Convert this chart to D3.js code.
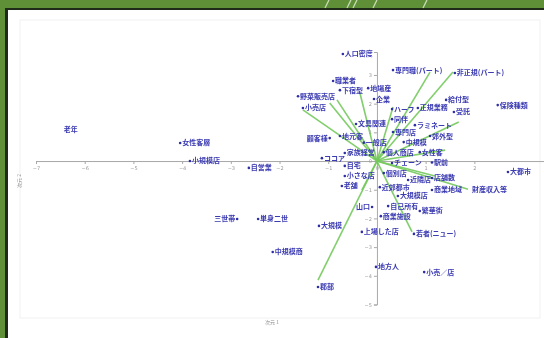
<!DOCTYPE html>
<html>
<head>
<meta charset="utf-8">
<script src="https://cdn.jsdelivr.net/npm/d3@7/dist/d3.min.js"></script>
<style>
  html, body { margin: 0; padding: 0; background: #5f8f36; }
  svg { display: block; }
</style>
</head>
<body>
<svg id="chart" width="544" height="338"></svg>
<script>
// Biplot: category points (blue) and variable vectors (green) on two dimensions
const xTicks = [-7, -6, -5, -4, -3, -2, -1, 0, 1, 2];
const yTicks = [-5, -4, -3, -2, -1, 0, 1, 2, 3];
const xTitle = "次元 1";
const yTitle = "次元 2";

// category points: label, dim1, dim2, label side (r = right, l = left, n = label only)
const pointLabels = [
  "人口密度", "専門職(パート)", "非正規(パート)", "職業者", "下宿型", "地場産", "野菜販売店", "企業",
  "ハーフ", "小売店", "正規業務", "給付型", "受託", "保険種類", "文具関連", "同伴", "ラミネート",
  "顧客様", "地元客", "一般店", "専門店", "中規模", "郊外型", "家族経営", "個人商店", "女性客",
  "ココア", "自宅", "個別店", "近隣店", "小さな店", "老舗", "近郊都市", "大規模店", "自己所有",
  "繁華街", "大都市", "財産収入等", "女性客層", "小規模店", "自営業", "老年", "三世帯", "単身二世",
  "大規模", "中規模商", "郡部", "山口", "商業施設", "上場した店", "若者(ニュー)", "地方人", "小売／店",
  "商業地域", "店舗数", "チェーン", "駅前"
];
const pointDim1 = [
  -0.70, 0.33, 1.60, -0.90, -0.76, -0.18, -1.62, -0.06,
  0.31, -1.52, 0.84, 1.42, 1.58, 2.48, -0.43, 0.31, 0.78,
  -0.97, -0.76, -0.27, 0.33, 0.55, 1.09, -0.66, 0.14, 0.88,
  -1.13, -0.66, 0.14, 0.64, -0.66, -0.72, 0.06, 0.43, 0.23,
  0.88, 2.69, 1.91, -4.04, -3.84, -2.63, -6.47, -2.87, -2.44,
  -1.19, -2.14, -1.21, -0.10, 0.08, -0.31, 0.76, -0.02, 0.97,
  1.13, 1.13, 0.31, 1.13
];
const pointDim2 = [
  3.73, 3.17, 3.07, 2.79, 2.47, 2.54, 2.26, 2.16,
  1.81, 1.85, 1.85, 2.13, 1.71, 1.95, 1.29, 1.46, 1.25,
  0.80, 0.87, 0.64, 1.01, 0.66, 0.87, 0.28, 0.31, 0.31,
  0.10, -0.17, -0.42, -0.66, -0.52, -0.87, -0.91, -1.22, -1.57,
  -1.74, -0.38, -0.98, 0.63, 0.00, -0.24, 1.11, -2.02, -2.02,
  -2.26, -3.17, -4.39, -1.60, -1.92, -2.47, -2.54, -3.69, -3.87,
  -1.01, -0.59, -0.07, -0.05
];
const pointSide = [
  "r", "r", "r", "r", "r", "r", "r", "r",
  "r", "r", "r", "r", "r", "r", "r", "r", "r",
  "l", "r", "r", "r", "r", "r", "r", "r", "r",
  "r", "r", "r", "r", "r", "r", "r", "r", "r",
  "r", "r", "n", "r", "r", "r", "n", "l", "r",
  "r", "r", "r", "l", "r", "r", "r", "r", "r",
  "r", "r", "r", "r"
];

// variable vectors drawn from the origin
const vectorDim1 = [1.09, 1.56, -1.52, -0.82, -0.35, 0.33, 1.68, 1.40, 1.87, 1.19, 0.72, -1.21, -0.31, -0.97];
const vectorDim2 = [3.10, 3.10, 1.78, 2.13, 2.37, 1.88, 1.36, 0.38, -0.98, -0.52, -2.47, -4.15, -1.01, 2.02];

const svg = d3.select("#chart");
const W = 544, H = 338;

// slide frame: green band, dark edge, white panel
svg.append("rect").attr("width", W).attr("height", H).attr("fill", "#5f8f36");
svg.append("rect").attr("x", 5).attr("y", 8).attr("width", W).attr("height", H)
  .attr("fill", "#1f2a18");
svg.append("rect").attr("x", 8).attr("y", 10).attr("width", W).attr("height", H)
  .attr("fill", "#ffffff");

// decorative slashes on the top band
const slashX = [325, 347, 353, 373, 423];
svg.append("g").selectAll("line").data(slashX).join("line")
  .attr("x1", d => d).attr("y1", 8).attr("x2", d => d + 4).attr("y2", 0)
  .attr("stroke", "rgba(235,245,225,0.75)").attr("stroke-width", 1.3);

const defs = svg.append("defs");
defs.append("filter").attr("id", "soft")
  .append("feGaussianBlur").attr("stdDeviation", 0.45);

const g = svg.append("g").attr("filter", "url(#soft)");

// faint plot frame
g.append("rect").attr("x", 20).attr("y", 20).attr("width", 520).attr("height", 298)
  .attr("fill", "none").attr("stroke", "#f1f1f1").attr("stroke-width", 1);

const x = d3.scaleLinear().domain([-7, 3.43]).range([36, 544]);
const y = d3.scaleLinear().domain([-5, 3.8]).range([304.5, 52]);

const axisStyle = sel => {
  sel.selectAll("path").attr("stroke", "#a8a8a8").attr("stroke-width", 1);
  sel.selectAll("line").attr("stroke", "#a8a8a8");
  sel.selectAll("text").attr("fill", "#9a9a9a").attr("font-size", 5)
    .attr("font-family", "DejaVu Sans, sans-serif");
};

g.append("g").attr("transform", `translate(0,${y(0)})`)
  .call(d3.axisBottom(x).tickValues(xTicks).tickSize(3).tickPadding(2).tickFormat(d3.format("d")))
  .call(axisStyle);
g.append("g").attr("transform", `translate(${x(0)},0)`)
  .call(d3.axisLeft(y).tickValues(yTicks).tickSize(3).tickPadding(2).tickFormat(d3.format("d")))
  .call(axisStyle);

// axis titles
g.append("text").attr("x", 272).attr("y", 324).attr("text-anchor", "middle")
  .attr("font-size", 5).attr("fill", "#8f8f8f").attr("font-family", "Noto Sans CJK JP")
  .text(xTitle);
g.append("text").attr("transform", "translate(21,181) rotate(-90)").attr("text-anchor", "middle")
  .attr("font-size", 5).attr("fill", "#8f8f8f").attr("font-family", "Noto Sans CJK JP")
  .text(yTitle);

// vectors
const vectors = vectorDim1.map((d, i) => ({ a: d, b: vectorDim2[i] }));
g.append("g").selectAll("line").data(vectors).join("line")
  .attr("x1", x(0)).attr("y1", y(0))
  .attr("x2", d => x(d.a)).attr("y2", d => y(d.b))
  .attr("stroke", "#74c95c").attr("stroke-width", 1.6).attr("stroke-opacity", 0.9);

// points and labels
const points = pointLabels.map((t, i) => ({ t, a: pointDim1[i], b: pointDim2[i], s: pointSide[i] }));
const pg = g.append("g");
pg.selectAll("circle").data(points.filter(d => d.s !== "n")).join("circle")
  .attr("cx", d => x(d.a)).attr("cy", d => y(d.b)).attr("r", 1.3)
  .attr("fill", "#2e2ea6");
pg.selectAll("text").data(points).join("text")
  .attr("x", d => x(d.a) + (d.s === "l" ? -2 : 2))
  .attr("y", d => y(d.b))
  .attr("dy", "0.35em")
  .attr("text-anchor", d => d.s === "l" ? "end" : "start")
  .attr("font-size", 7)
  .attr("font-weight", 700)
  .attr("font-family", "Noto Sans CJK JP")
  .attr("fill", "#3a3ab2")
  .text(d => d.t);
</script>
</body>
</html>
